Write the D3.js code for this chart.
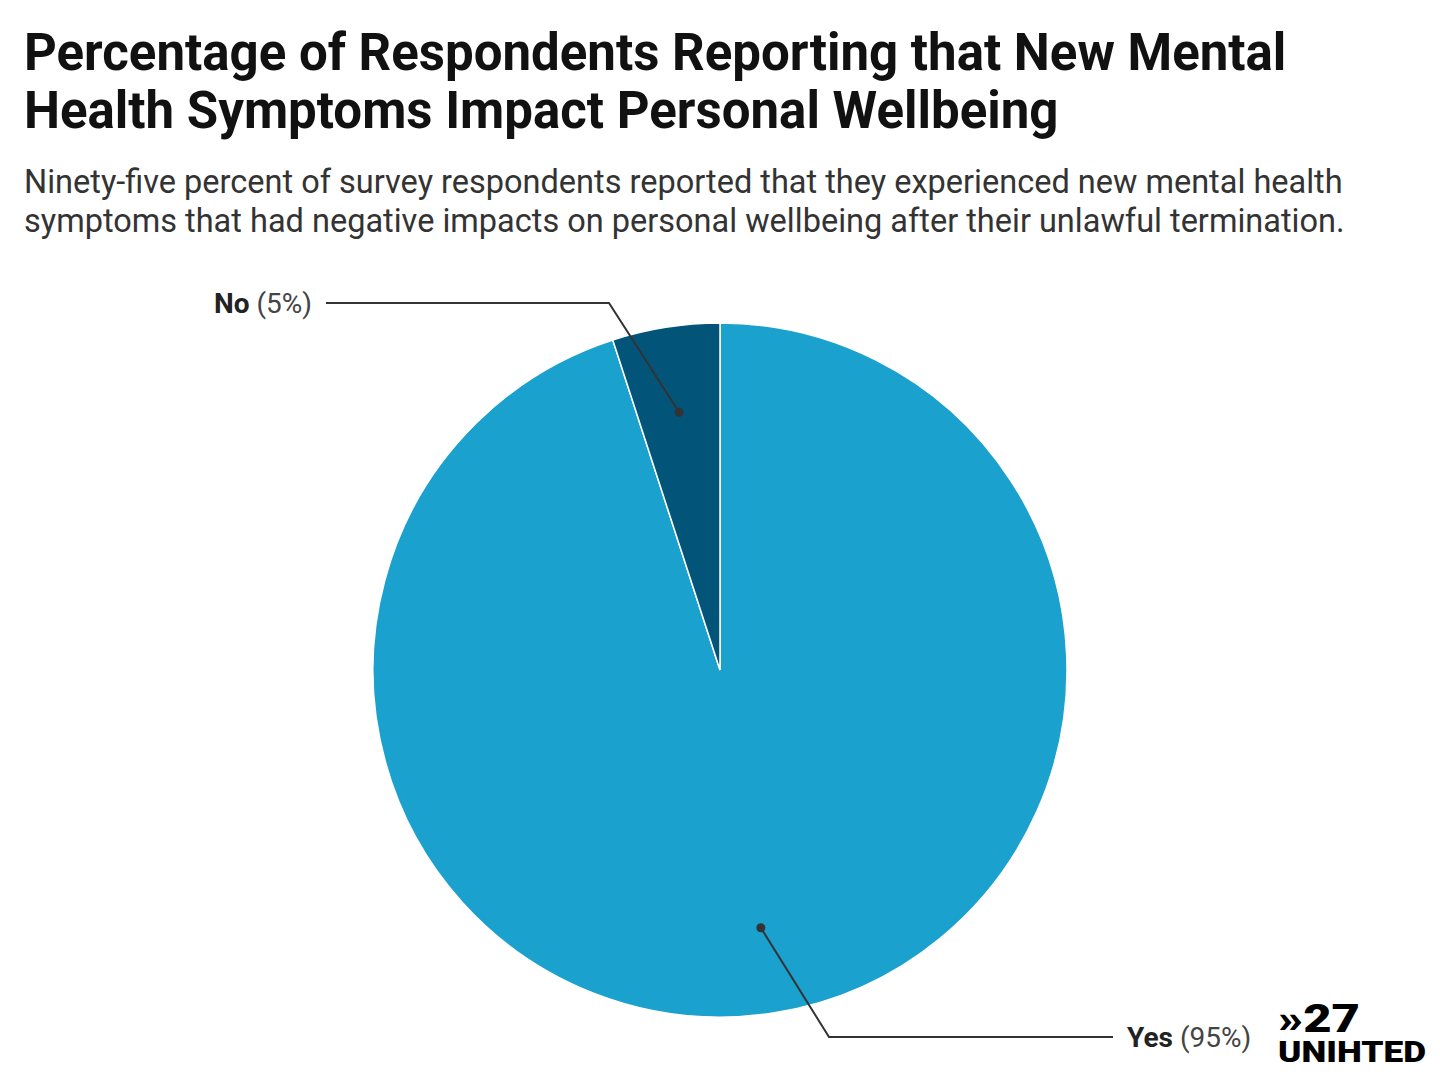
<!DOCTYPE html>
<html><head><meta charset="utf-8">
<script src="https://cdn.jsdelivr.net/npm/d3@7"></script>
<style>body{margin:0;background:#fff;font-family:Roboto,sans-serif}</style>
</head><body>
<svg id="c" width="1440" height="1083"></svg>
<script>
const categories = ["Yes", "No"];
const values = [95, 5];
const colors = ["#1aa1cd", "#035479"];

const svg = d3.select("#c");
svg.append("text").attr("x",24).attr("y",70).attr("font-size",51).attr("font-weight",700).attr("fill","#111")
  .text("Percentage of Respondents Reporting that New Mental");
svg.append("text").attr("x",24).attr("y",128).attr("font-size",51).attr("font-weight",700).attr("fill","#111")
  .text("Health Symptoms Impact Personal Wellbeing");
svg.append("text").attr("x",24).attr("y",193).attr("font-size",32.5).attr("fill","#333")
  .text("Ninety-five percent of survey respondents reported that they experienced new mental health");
svg.append("text").attr("x",24).attr("y",232).attr("font-size",32.5).attr("fill","#333")
  .text("symptoms that had negative impacts on personal wellbeing after their unlawful termination.");

const cx = 720, cy = 670, R = 347;
const data = categories.map((c,i)=>({c, v: values[i], col: colors[i]}));
const pie = d3.pie().sort(null).value(d=>d.v)(data);
const arc = d3.arc().innerRadius(0).outerRadius(R);
const g = svg.append("g").attr("transform",`translate(${cx},${cy})`);
g.selectAll("path").data(pie).join("path").attr("d",arc).attr("fill",d=>d.data.col)
  .attr("stroke","#fff").attr("stroke-width",1.5);

const inner = d3.arc().innerRadius(261).outerRadius(261);
const labelCfg = {Yes:{elbowY:1037, elbowX:829, endX:1113, anchor:"start"}, No:{elbowY:303, elbowX:609, endX:326, anchor:"end"}};
pie.forEach(p=>{
  const [x,y] = inner.centroid(p);
  const px = cx+x, py = cy+y, cfg = labelCfg[p.data.c];
  svg.append("polyline").attr("points",`${px},${py} ${cfg.elbowX},${cfg.elbowY} ${cfg.endX},${cfg.elbowY}`)
    .attr("fill","none").attr("stroke","#333").attr("stroke-width",2);
  svg.append("circle").attr("cx",px).attr("cy",py).attr("r",4.5).attr("fill","#333");
  const t = svg.append("text").attr("y",cfg.elbowY+10).attr("font-size",28).attr("fill","#222")
    .attr("x", cfg.anchor==="start"? cfg.endX+14 : cfg.endX-14).attr("text-anchor",cfg.anchor);
  t.append("tspan").attr("font-weight",700).text(p.data.c);
  t.append("tspan").attr("fill","#444").text(` (${p.data.v}%)`);
});

// logo
const logo = svg.append("text").attr("x",1278).attr("font-weight",900).attr("fill","#000");
logo.append("tspan").attr("x",1278).attr("y",1032).attr("font-size",38)
  .attr("textLength",82).attr("lengthAdjust","spacingAndGlyphs").text("»27");
logo.append("tspan").attr("x",1278).attr("y",1062).attr("font-size",30)
  .attr("textLength",148).attr("lengthAdjust","spacingAndGlyphs").text("UNIHTED");
</script>
</body></html>
